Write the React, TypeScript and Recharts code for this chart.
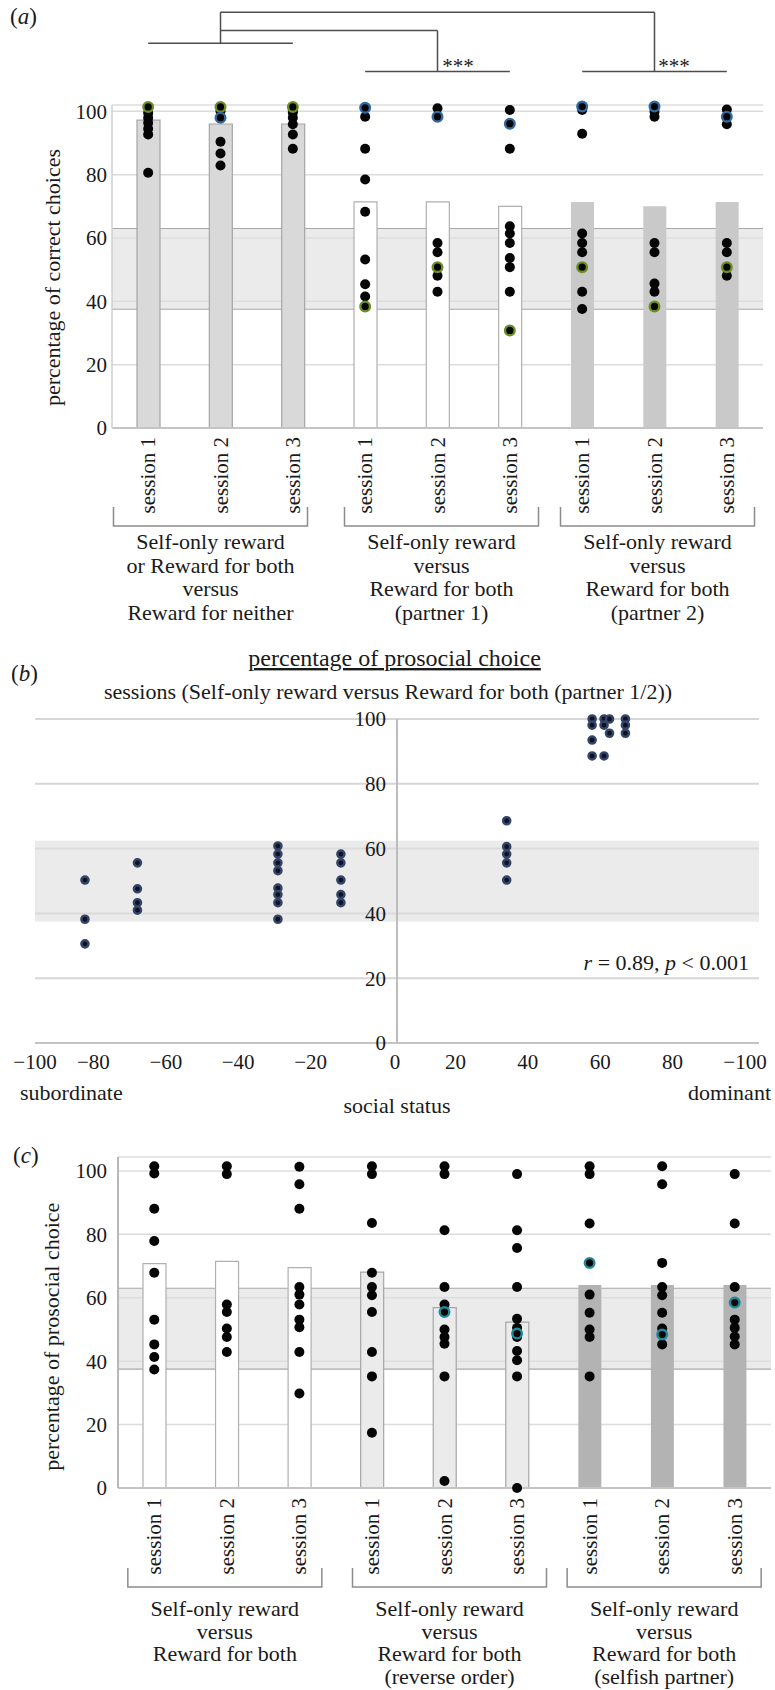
import {
  Bar,
  CartesianGrid,
  Cell,
  ComposedChart,
  ReferenceArea,
  ReferenceLine,
  Scatter,
  ScatterChart,
  XAxis,
  YAxis,
} from "recharts";

const FONT = '"Liberation Serif", "Times New Roman", Times, serif';
const INK = "#1a1a1a";

// ---- panel (a): correct choices
const CATS_A = ["a1", "a2", "a3", "a4", "a5", "a6", "a7", "a8", "a9"];
const SESSIONS = ["session 1", "session 2", "session 3", "session 1", "session 2", "session 3", "session 1", "session 2", "session 3"];
const MEAN_A = [97.2, 96, 96, 71.4, 71.4, 70, 71.4, 70, 71.4];
const BLACK_A = [
  [99.5, 98, 96.4, 94.5, 92.7, 80.6],
  [100, 98, 90.4, 86.7, 82.9],
  [100.2, 99.6, 98, 95.9, 92.7, 88.2],
  [98.3, 88.2, 78.5, 68.3, 53.2, 45.4, 41.5],
  [101, 98.3, 58.4, 55.5, 48.1, 43],
  [100.4, 88.2, 63.7, 61.4, 58.4, 53.7, 50.8, 43],
  [100.4, 92.9, 61.4, 58.4, 55.5, 43, 37.6],
  [99.9, 98.3, 58.4, 55.5, 45.6, 43],
  [100.6, 98.3, 95.9, 58.4, 55.5, 48.1],
];
const GREEN_A = [[101.4], [101.4], [101.4], [38.4], [50.8], [30.8], [50.8], [38.4], [50.8]];
const BLUE_A = [[], [98], [], [101.1], [98.3], [96.1], [101.5], [101.5], [98.3]];
const GROUPS_A = [
  ["Self-only reward", "or Reward for both", "versus", "Reward for neither"],
  ["Self-only reward", "versus", "Reward for both", "(partner 1)"],
  ["Self-only reward", "versus", "Reward for both", "(partner 2)"],
];
// significance brackets [from, level, to, level]
const BRACKETS_A: [string, number, string, number][] = [
  ["a2", 131.3, "a8", 131.3],
  ["a2", 131.3, "a2", 121.5],
  ["a8", 131.3, "a8", 112.6],
  ["a2", 125.5, "a5", 125.5],
  ["a5", 125.5, "a5", 112.6],
  ["a1", 121.5, "a3", 121.5],
  ["a4", 112.6, "a6", 112.6],
  ["a7", 112.6, "a9", 112.6],
];

// ---- panel (b): prosocial choice vs social status
const B_X = [-86.2, -71.7, -32.9, -15.5, 30.3, 53.9, 57.2, 58.7, 63.1];
const B_Y = [
  [50.3, 38.2, 30.6],
  [55.6, 47.6, 43.3, 41],
  [60.8, 58.3, 55.6, 53.2, 47.8, 45.8, 43.3, 38.2],
  [58.3, 55.6, 50.3, 45.8, 43.3],
  [68.6, 60.6, 58.3, 55.6, 50.3],
  [100, 98.1, 93.5, 88.6],
  [100, 98.1, 88.6],
  [100, 95.6],
  [100, 98.1, 95.6],
];
const B_XTICKS = [-100, -80, -60, -40, -20, 0, 20, 40, 60, 80, 100];
const B_XLABELS = ["−100", "−80", "−60", "−40", "−20", "0", "20", "40", "60", "80", "−100"];

// ---- panel (c): prosocial choice
const CATS_C = ["c1", "c2", "c3", "c4", "c5", "c6", "c7", "c8", "c9"];
const MEAN_C = [70.8, 71.5, 69.5, 68.1, 56.9, 52.3, 64, 64, 64];
const BLACK_C = [
  [101.5, 99.2, 88.1, 77.9, 67.9, 53.1, 45.3, 41.3, 37.4],
  [101.5, 99, 57.9, 55.5, 50.3, 47.6, 42.9],
  [101.3, 95.8, 88.1, 63.4, 61, 57.9, 53.1, 50.7, 42.9, 29.8],
  [101.5, 99, 83.6, 67.9, 63.4, 60.8, 55.5, 42.9, 35.2, 17.4],
  [101.5, 99, 81.3, 63.4, 57.9, 50, 47.6, 45.5, 35.2, 2.2],
  [99, 81.3, 75.7, 63.4, 53.4, 50.5, 47.6, 43.2, 40.3, 35.2, 0],
  [101.5, 99, 83.4, 61, 55.3, 50, 47.6, 35.2],
  [101.5, 95.8, 71, 63.4, 60.8, 55.3, 50.3, 45.3],
  [99, 83.4, 63.4, 53.1, 50.5, 47.8, 45.3],
];
const TEAL_C = [[], [], [], [], [55.5], [48.7], [71], [48.4], [58.5]];
const GROUPS_C = [
  ["Self-only reward", "versus", "Reward for both"],
  ["Self-only reward", "versus", "Reward for both", "(reverse order)"],
  ["Self-only reward", "versus", "Reward for both", "(selfish partner)"],
];

const Y_TICKS = [0, 20, 40, 60, 80, 100];
const BAND = [37.5, 63];

const STYLE_A = [
  { fill: "#d9d9d9", stroke: "#a6a6a6" },
  { fill: "#ffffff", stroke: "#b0b0b0" },
  { fill: "#c9c9c9", stroke: "none" },
];
const STYLE_C = [
  { fill: "#ffffff", stroke: "#b0b0b0" },
  { fill: "#ebebeb", stroke: "#a6a6a6" },
  { fill: "#b3b3b3", stroke: "none" },
];

const toPoints = (cats: string[], vals: number[][]) =>
  cats.flatMap((cat, i) => vals[i].map((v) => ({ cat, v })));

const dotShape = (fill: string, stroke?: string, r = 5) => (p: any) =>
  p.cx == null ? <g /> : (
    <circle cx={p.cx} cy={p.cy} r={r} fill={fill} stroke={stroke ?? "none"} strokeWidth={stroke ? 2.4 : 0} />
  );

type TickCfg = {
  cats: string[];
  groups: string[][];
  labelDy: number;
  top: number;
  bottom: number;
  lines: number[];
  nudge: number[];
};

const categoryTick = (cfg: TickCfg) => (props: any) => {
  const { x, y, payload } = props;
  const i = cfg.cats.indexOf(payload.value);
  const g = Math.floor(i / 3);
  const cx = x + cfg.nudge[g];
  return (
    <g>
      <text
        transform={`translate(${x + 7},${y + cfg.labelDy}) rotate(-90)`}
        textAnchor="end"
        fontFamily={FONT}
        fontSize={21}
        fill={INK}
      >
        {SESSIONS[i]}
      </text>
      {i % 3 === 1 && (
        <g>
          <path
            d={`M${cx - 97},${y + cfg.top} V${y + cfg.bottom} H${cx + 97} V${y + cfg.top}`}
            fill="none"
            stroke="#8c8c8c"
            strokeWidth={1.5}
          />
          {cfg.groups[g].map((line, k) => (
            <text key={k} x={cx} y={y + cfg.lines[k]} textAnchor="middle" fontFamily={FONT} fontSize={22} fill={INK}>
              {line}
            </text>
          ))}
        </g>
      )}
    </g>
  );
};

const yTickStyle = { fill: INK, fontSize: 21, fontFamily: FONT };

function PanelA() {
  const data = CATS_A.map((cat, i) => ({ cat, bar: MEAN_A[i] }));
  return (
    <ComposedChart width={775} height={640} data={data} margin={{ top: 105, right: 12, bottom: 0, left: 0 }}>
      <CartesianGrid vertical={false} stroke="#dcdcdc" strokeWidth={1.5} />
      <ReferenceArea y1={BAND[0]} y2={BAND[1]} fill="#dedede" fillOpacity={0.6} stroke="none" />
      <ReferenceLine y={BAND[0]} stroke="#a8a8a8" strokeWidth={1.2} zIndex={250} />
      <ReferenceLine y={BAND[1]} stroke="#a8a8a8" strokeWidth={1.2} zIndex={250} />
      <XAxis
        dataKey="cat"
        type="category"
        allowDuplicatedCategory={false}
        interval={0}
        height={212}
        tickLine={false}
        tickSize={0}
        tickMargin={0}
        axisLine={{ stroke: "#c4c4c4", strokeWidth: 2 }}
        tick={categoryTick({
          cats: CATS_A,
          groups: GROUPS_A,
          labelDy: 9,
          top: 79,
          bottom: 98,
          lines: [121, 144.7, 168.3, 192],
          nudge: [-10, 4, 3],
        })}
      />
      <YAxis
        type="number"
        domain={[0, 102]}
        ticks={Y_TICKS}
        width={112}
        interval={0}
        tickLine={false}
        tickSize={0}
        tickMargin={5}
        axisLine={{ stroke: "#cfcfcf", strokeWidth: 1.5 }}
        tick={yTickStyle}
      />
      <Bar dataKey="bar" barSize={23} isAnimationActive={false}>
        {data.map((_, i) => (
          <Cell key={i} fill={STYLE_A[Math.floor(i / 3)].fill} stroke={STYLE_A[Math.floor(i / 3)].stroke} strokeWidth={1.2} />
        ))}
      </Bar>
      <Scatter data={toPoints(CATS_A, BLACK_A)} dataKey="v" shape={dotShape("#050505")} isAnimationActive={false} />
      <Scatter data={toPoints(CATS_A, GREEN_A)} dataKey="v" shape={dotShape("#050505", "#6b8e23", 4.8)} isAnimationActive={false} />
      <Scatter data={toPoints(CATS_A, BLUE_A)} dataKey="v" shape={dotShape("#050505", "#2f6aa0", 4.8)} isAnimationActive={false} />
      {BRACKETS_A.map(([c1, v1, c2, v2], k) => (
        <ReferenceLine
          key={k}
          segment={[{ x: c1, y: v1 }, { x: c2, y: v2 }]}
          stroke="#4d4d4d"
          strokeWidth={1.5}
          ifOverflow="visible"
        />
      ))}
    </ComposedChart>
  );
}

const B_LEFT = 35;
const B_RIGHT = 759;
const B_ZERO_X = B_LEFT + (B_RIGHT - B_LEFT) / 2;

function PanelB() {
  const points = B_X.flatMap((x, i) => B_Y[i].map((y) => ({ x, y })));
  return (
    <ScatterChart width={775} height={400} margin={{ top: 19, right: 775 - B_RIGHT, bottom: 0, left: B_LEFT }}>
      <CartesianGrid vertical={false} stroke="#d6d6d6" strokeWidth={2} />
      <ReferenceArea y1={37.4} y2={62.4} fill="#dedede" fillOpacity={0.6} stroke="none" />
      <ReferenceLine x={0} stroke="#bdbdbd" strokeWidth={2} />
      <XAxis
        type="number"
        dataKey="x"
        domain={[-100, 100]}
        ticks={B_XTICKS}
        interval={0}
        height={57}
        tickLine={false}
        tickSize={0}
        tickMargin={11}
        axisLine={{ stroke: "#c4c4c4", strokeWidth: 2 }}
        tick={(p: any) => {
          const v = p.payload.value;
          const dx = v === 0 ? -2 : v === -100 ? 0 : -14;
          return (
            <text x={p.x + dx} y={p.y} dy="0.71em" textAnchor="middle" fontFamily={FONT} fontSize={21} fill={INK}>
              {B_XLABELS[B_XTICKS.indexOf(v)]}
            </text>
          );
        }}
      />
      <YAxis
        type="number"
        dataKey="y"
        domain={[0, 100]}
        ticks={Y_TICKS}
        mirror
        interval={0}
        axisLine={false}
        tickLine={false}
        tick={(p: any) => (
          <text x={B_ZERO_X - 11} y={p.y} dy="0.355em" textAnchor="end" fontFamily={FONT} fontSize={21} fill={INK}>
            {p.payload.value}
          </text>
        )}
      />
      <Scatter data={points} shape={dotShape("#10131f", "#34456a", 3.6)} isAnimationActive={false} />
    </ScatterChart>
  );
}

function PanelC() {
  const data = CATS_C.map((cat, i) => ({ cat, bar: MEAN_C[i] }));
  return (
    <ComposedChart width={775} height={550} data={data} margin={{ top: 17, right: 4, bottom: 0, left: 0 }}>
      <CartesianGrid vertical={false} stroke="#dcdcdc" strokeWidth={1.5} />
      <ReferenceArea y1={BAND[0]} y2={BAND[1]} fill="#dedede" fillOpacity={0.6} stroke="none" />
      <ReferenceLine y={BAND[0]} stroke="#a8a8a8" strokeWidth={1.2} zIndex={250} />
      <ReferenceLine y={BAND[1]} stroke="#a8a8a8" strokeWidth={1.2} zIndex={250} />
      <XAxis
        dataKey="cat"
        type="category"
        allowDuplicatedCategory={false}
        interval={0}
        height={202}
        tickLine={false}
        tickSize={0}
        tickMargin={0}
        axisLine={{ stroke: "#c4c4c4", strokeWidth: 2 }}
        tick={categoryTick({
          cats: CATS_C,
          groups: GROUPS_C,
          labelDy: 10,
          top: 80,
          bottom: 99,
          lines: [128, 150.5, 173, 195.5],
          nudge: [-2, 5, 2],
        })}
      />
      <YAxis
        type="number"
        domain={[0, 104.4]}
        ticks={Y_TICKS}
        width={118}
        interval={0}
        tickLine={false}
        tickSize={0}
        tickMargin={11}
        axisLine={{ stroke: "#b8b8b8", strokeWidth: 2 }}
        tick={yTickStyle}
      />
      <Bar dataKey="bar" barSize={23} isAnimationActive={false}>
        {data.map((_, i) => (
          <Cell key={i} fill={STYLE_C[Math.floor(i / 3)].fill} stroke={STYLE_C[Math.floor(i / 3)].stroke} strokeWidth={1.2} />
        ))}
      </Bar>
      <Scatter data={toPoints(CATS_C, BLACK_C)} dataKey="v" shape={dotShape("#050505")} isAnimationActive={false} />
      <Scatter data={toPoints(CATS_C, TEAL_C)} dataKey="v" shape={dotShape("#050505", "#1f8a9c", 4.8)} isAnimationActive={false} />
    </ComposedChart>
  );
}

function Overlay() {
  const t = { fontFamily: FONT, fill: INK };
  return (
    <svg width={775} height={1690} style={{ position: "absolute", left: 0, top: 0, pointerEvents: "none" }}>
      <text x={10} y={23.5} fontSize={23} {...t}>
        (<tspan fontStyle="italic">a</tspan>)
      </text>
      <text transform="translate(60,277.5) rotate(-90)" textAnchor="middle" fontSize={22} {...t}>
        percentage of correct choices
      </text>
      <text x={458} y={73} textAnchor="middle" fontSize={21} {...t}>***</text>
      <text x={674} y={73} textAnchor="middle" fontSize={21} {...t}>***</text>

      <text x={11} y={681} fontSize={23} {...t}>
        (<tspan fontStyle="italic">b</tspan>)
      </text>
      <text x={394.6} y={666} textAnchor="middle" fontSize={24} style={{ textDecoration: "underline" }} {...t}>
        percentage of prosocial choice
      </text>
      <text x={388} y={699} textAnchor="middle" fontSize={22} {...t}>
        sessions (Self-only reward versus Reward for both (partner 1/2))
      </text>
      <text x={749} y={970} textAnchor="end" fontSize={22} {...t}>
        <tspan fontStyle="italic">r</tspan> = 0.89, <tspan fontStyle="italic">p</tspan> {"<"} 0.001
      </text>
      <text x={20} y={1100} fontSize={22} {...t}>subordinate</text>
      <text x={771} y={1100} textAnchor="end" fontSize={22} {...t}>dominant</text>
      <text x={397} y={1113} textAnchor="middle" fontSize={22} {...t}>social status</text>

      <text x={13} y={1163} fontSize={23} {...t}>
        (<tspan fontStyle="italic">c</tspan>)
      </text>
      <text transform="translate(59,1336.7) rotate(-90)" textAnchor="middle" fontSize={22} {...t}>
        percentage of prosocial choice
      </text>
    </svg>
  );
}

export default function App() {
  return (
    <div style={{ position: "absolute", left: 0, top: 0, width: 775, height: 1690, background: "#fff", fontFamily: FONT }}>
      <div style={{ position: "absolute", left: 0, top: 0 }}>
        <PanelA />
      </div>
      <div style={{ position: "absolute", left: 0, top: 700 }}>
        <PanelB />
      </div>
      <div style={{ position: "absolute", left: 0, top: 1140 }}>
        <PanelC />
      </div>
      <Overlay />
    </div>
  );
}
